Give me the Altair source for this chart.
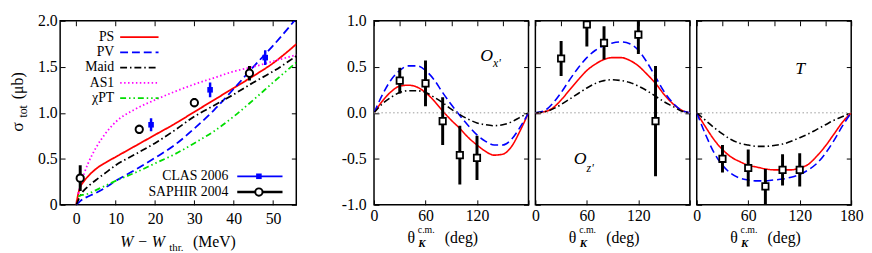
import altair as alt
import pandas as pd

FONT = "Liberation Serif, Times New Roman, Times, DejaVu Serif, serif"
TICK = 5
FS = 16
LEG = 14

# ---------------- left panel: total cross section ----------------
w_grid = [0, 0.5, 1, 2, 3, 5, 7.5, 10, 15, 20, 25, 30, 35, 40, 45, 50, 56]
sig_ps = [0, 0.12, 0.19, 0.26, 0.31, 0.39, 0.46, 0.52, 0.64, 0.76, 0.88, 1.01, 1.14, 1.27, 1.40, 1.54, 1.75]
sig_pv = [0, 0.02, 0.04, 0.07, 0.09, 0.13, 0.19, 0.26, 0.38, 0.51, 0.65, 0.83, 1.03, 1.26, 1.50, 1.73, 2.03]
sig_maid = [0, 0.05, 0.10, 0.16, 0.20, 0.27, 0.35, 0.43, 0.55, 0.67, 0.81, 0.96, 1.08, 1.20, 1.33, 1.45, 1.62]
w_low = [0.5, 1, 2, 3, 5, 7.5, 10, 15, 20, 25, 30, 35, 40, 45, 50, 56]
sig_as1 = [0.12, 0.20, 0.34, 0.45, 0.62, 0.78, 0.90, 1.04, 1.14, 1.23, 1.31, 1.38, 1.45, 1.50, 1.56, 1.63]
sig_chpt = [0.09, 0.10, 0.11, 0.12, 0.16, 0.21, 0.26, 0.35, 0.45, 0.55, 0.67, 0.80, 0.96, 1.14, 1.33, 1.55]

models_left = ["PS", "PV", "Maid", "AS1", "χPT"]
colors_left = ["#ff0000", "#0000ff", "#000000", "#ff00ff", "#00dd00"]
dashes_left = [[1, 0], [8, 4], [7, 3, 1.5, 3], [1.5, 2.5], [6, 3, 1.5, 3, 1.5, 3]]

clas_w = [19, 34, 48]
clas_sig = [0.87, 1.25, 1.60]
clas_err = [0.07, 0.08, 0.08]
saphir_w = [1, 16, 30, 44]
saphir_sig = [0.29, 0.82, 1.11, 1.43]
saphir_err = [0.14, 0.05, 0.05, 0.08]

# ---------------- right panels: polarizations ----------------
theta = list(range(0, 181, 10))
ox_ps = [0, 0.13, 0.23, 0.29, 0.30, 0.28, 0.22, 0.13, 0.02, -0.08, -0.17, -0.27, -0.35, -0.42, -0.46, -0.45, -0.37, -0.20, 0]
ox_pv = [0, 0.20, 0.36, 0.46, 0.51, 0.51, 0.46, 0.36, 0.22, 0.09, -0.03, -0.14, -0.24, -0.31, -0.35, -0.35, -0.29, -0.16, 0]
ox_maid = [0, 0.10, 0.17, 0.22, 0.24, 0.24, 0.22, 0.17, 0.11, 0.04, -0.02, -0.07, -0.11, -0.13, -0.14, -0.13, -0.10, -0.05, 0]

oz_ps = [0, 0.01, 0.05, 0.14, 0.25, 0.36, 0.46, 0.53, 0.58, 0.60, 0.60, 0.57, 0.51, 0.42, 0.32, 0.20, 0.10, 0.03, 0]
oz_pv = [0, 0.02, 0.10, 0.22, 0.36, 0.49, 0.60, 0.68, 0.73, 0.76, 0.77, 0.75, 0.68, 0.55, 0.39, 0.23, 0.11, 0.03, 0]
oz_maid = [0, 0.01, 0.04, 0.09, 0.15, 0.21, 0.27, 0.32, 0.35, 0.36, 0.35, 0.33, 0.29, 0.24, 0.18, 0.12, 0.07, 0.02, 0]

t_ps = [0, -0.15, -0.29, -0.40, -0.48, -0.53, -0.57, -0.59, -0.61, -0.62, -0.62, -0.62, -0.60, -0.56, -0.47, -0.36, -0.23, -0.10, 0]
t_pv = [0, -0.23, -0.43, -0.57, -0.66, -0.71, -0.73, -0.74, -0.74, -0.73, -0.72, -0.70, -0.67, -0.62, -0.55, -0.44, -0.30, -0.14, 0]
t_maid = [0, -0.08, -0.16, -0.23, -0.29, -0.33, -0.35, -0.365, -0.365, -0.355, -0.34, -0.31, -0.27, -0.23, -0.18, -0.13, -0.08, -0.04, 0]

models_right = ["PS", "PV", "Maid"]
colors_right = ["#ff0000", "#0000ff", "#000000"]
dashes_right = [[1, 0], [8, 4], [7, 3, 1.5, 3]]

ox_th = [30, 60, 80, 100, 120]
ox_val = [0.35, 0.32, -0.09, -0.46, -0.49]
ox_err = [0.14, 0.25, 0.26, 0.32, 0.24]
oz_th = [30, 60, 80, 120, 140]
oz_val = [0.59, 0.96, 0.76, 0.85, -0.09]
oz_err = [0.19, 0.24, 0.18, 0.21, 0.60]
t_th = [30, 60, 80, 100, 120]
t_val = [-0.50, -0.60, -0.80, -0.62, -0.62]
t_err = [0.15, 0.20, 0.19, 0.17, 0.18]

ONE = pd.DataFrame({"k": [0]})


def long_df(xs_list, ys_list, names):
    rows = []
    for xs, ys, n in zip(xs_list, ys_list, names):
        for x, y in zip(xs, ys):
            rows.append({"x": x, "y": y, "model": n})
    return pd.DataFrame(rows)


def err_df(xs, vals, errs):
    return pd.DataFrame({"x": xs, "y": vals,
                         "lo": [v - e for v, e in zip(vals, errs)],
                         "hi": [v + e for v, e in zip(vals, errs)]})


def txt(s, x, y, size=FS, align="left", baseline="alphabetic", style="normal",
        weight="normal", angle=0, color="black"):
    kw = dict(align=align, baseline=baseline, font=FONT, fontSize=size,
              fontStyle=style, fontWeight=weight, color=color)
    if angle:
        kw["angle"] = angle
    return alt.Chart(ONE).mark_text(**kw).encode(
        x=alt.value(x), y=alt.value(y), text=alt.value(s))


def axis(orient, values, labels=True, label_expr=None, pad=6):
    kw = dict(orient=orient, values=values, offset=-TICK, tickSize=TICK,
              domain=False, grid=False, title=None, labels=labels,
              tickColor="black", tickWidth=1, labelFont=FONT, labelFontSize=FS,
              labelColor="black", labelPadding=pad, labelFlush=False,
              labelOverlap=False)
    if label_expr:
        kw["labelExpr"] = label_expr
    return alt.Axis(**kw)


# ================= left panel =================
LW, LH = 240, 187
xs_l = alt.Scale(domain=[-4.1, 55.9], nice=False, zero=False)
ys_l = alt.Scale(domain=[0, 2], nice=False, zero=False)

df_left = long_df([w_grid, w_grid, w_grid, w_low, w_low],
                  [sig_ps, sig_pv, sig_maid, sig_as1, sig_chpt], models_left)

curves_left = alt.Chart(df_left).mark_line(clip=True, strokeWidth=1.8, interpolate="monotone").encode(
    x=alt.X("x:Q", scale=xs_l, axis=axis("bottom", [0, 10, 20, 30, 40, 50], pad=6)),
    y=alt.Y("y:Q", scale=ys_l, axis=axis("left", [0, 0.5, 1.0, 1.5, 2.0], pad=3,
                                         label_expr="datum.value == 0 ? '0' : format(datum.value, '.1f')")),
    color=alt.Color("model:N", scale=alt.Scale(domain=models_left, range=colors_left), legend=None),
    strokeDash=alt.StrokeDash("model:N", scale=alt.Scale(domain=models_left, range=dashes_left), legend=None),
)

clas_df = err_df(clas_w, clas_sig, clas_err)
saphir_df = err_df(saphir_w, saphir_sig, saphir_err)

clas_bars = alt.Chart(clas_df).mark_rule(color="#0000ff", strokeWidth=2.5, clip=True).encode(
    x=alt.X("x:Q", scale=xs_l, title=None), y=alt.Y("lo:Q", scale=ys_l, title=None), y2="hi:Q")
clas_pts = alt.Chart(clas_df).mark_square(color="#0000ff", size=32, opacity=1).encode(
    x=alt.X("x:Q", scale=xs_l, title=None), y=alt.Y("y:Q", scale=ys_l, title=None))
saphir_bars = alt.Chart(saphir_df).mark_rule(color="black", strokeWidth=3, clip=True).encode(
    x=alt.X("x:Q", scale=xs_l, title=None), y=alt.Y("lo:Q", scale=ys_l, title=None), y2="hi:Q")
saphir_pts = alt.Chart(saphir_df).mark_point(shape="circle", filled=True, fill="white", stroke="black",
                                              strokeWidth=2, size=55, opacity=1).encode(
    x=alt.X("x:Q", scale=xs_l, title=None), y=alt.Y("y:Q", scale=ys_l, title=None))

left_layers = [curves_left, clas_bars, saphir_bars, clas_pts, saphir_pts]

# legend (model curves)
for i, (name, col, dash) in enumerate(zip(models_left, colors_left, dashes_left)):
    yy = 16.5 + i * 15.5
    left_layers.append(txt(name, 55, yy, size=LEG, baseline="middle", align="right"))
    left_layers.append(alt.Chart(ONE).mark_rule(color=col, strokeDash=dash, strokeWidth=1.8).encode(
        x=alt.value(61), x2=alt.value(100), y=alt.value(yy)))

# legend (data)
left_layers.append(txt("CLAS 2006", 171, 158, size=LEG, baseline="middle", align="right"))
left_layers.append(alt.Chart(ONE).mark_rule(color="#0000ff", strokeWidth=1.8).encode(
    x=alt.value(180), x2=alt.value(226), y=alt.value(158)))
left_layers.append(alt.Chart(ONE).mark_square(color="#0000ff", size=32, opacity=1).encode(
    x=alt.value(202), y=alt.value(158)))
left_layers.append(txt("SAPHIR 2004", 171, 174, size=LEG, baseline="middle", align="right"))
left_layers.append(alt.Chart(ONE).mark_rule(color="black", strokeWidth=2.5).encode(
    x=alt.value(180), x2=alt.value(226), y=alt.value(174)))
left_layers.append(alt.Chart(ONE).mark_point(shape="circle", filled=True, fill="white", stroke="black",
                                             strokeWidth=2, size=55, opacity=1).encode(
    x=alt.value(202), y=alt.value(174)))

# axis titles
left_layers += [
    txt("W − W", 61, 230, style="italic"),
    txt("thr.", 111, 234, size=11),
    txt("(MeV)", 135, 230),
    txt("σ", -38, 108, size=18, angle=270, align="center"),
    txt("tot", -34, 92, size=12, angle=270, align="center"),
    txt("(μb)", -38, 66, size=FS, angle=270, align="center"),
]

left_mirror = alt.Chart(df_left).mark_line(opacity=0).encode(
    x=alt.X("x:Q", scale=xs_l, axis=axis("top", [0, 10, 20, 30, 40, 50], labels=False)),
    y=alt.Y("y:Q", scale=ys_l, axis=axis("right", [0, 0.5, 1.0, 1.5, 2.0], labels=False)),
)

left = alt.layer(alt.layer(*left_layers), left_mirror).resolve_axis(
    x="independent", y="independent").properties(width=LW, height=LH)

# ================= right panels =================
PW, PH = 157, 187
xs_r = alt.Scale(domain=[0, 180], nice=False, zero=False)
ys_r = alt.Scale(domain=[-1, 1], nice=False, zero=False)
th_ticks = [0, 30, 60, 90, 120, 150, 180]
y_ticks = [-1.0, -0.5, 0.0, 0.5, 1.0]
y_expr = "(datum.value < 0 ? '-' : '') + format(abs(datum.value), '.1f')"


def make_panel(ps, pv, maid, th, val, err, label_layers, y_labels, last):
    dfc = long_df([theta, theta, theta], [ps, pv, maid], models_right)
    x_expr = ("datum.value % 60 == 0 ? datum.label : ''" if last
              else "datum.value % 60 == 0 && datum.value < 180 ? datum.label : ''")
    curves = alt.Chart(dfc).mark_line(clip=True, strokeWidth=1.6, interpolate="monotone").encode(
        x=alt.X("x:Q", scale=xs_r, axis=axis("bottom", th_ticks, label_expr=x_expr, pad=3)),
        y=alt.Y("y:Q", scale=ys_r, axis=axis("left", y_ticks, labels=y_labels, pad=8, label_expr=y_expr)),
        color=alt.Color("model:N", scale=alt.Scale(domain=models_right, range=colors_right), legend=None),
        strokeDash=alt.StrokeDash("model:N", scale=alt.Scale(domain=models_right, range=dashes_right), legend=None),
    )
    zero = alt.Chart(ONE).mark_rule(color="#999999", strokeWidth=1, strokeDash=[1.5, 2.5]).encode(
        y=alt.datum(0))
    d = err_df(th, val, err)
    bars = alt.Chart(d).mark_rule(color="black", strokeWidth=3, clip=True).encode(
        x=alt.X("x:Q", scale=xs_r, title=None), y=alt.Y("lo:Q", scale=ys_r, title=None), y2="hi:Q")
    pts = alt.Chart(d).mark_square(fill="white", stroke="black", strokeWidth=1.8, size=42,
                                   opacity=1, clip=True).encode(
        x=alt.X("x:Q", scale=xs_r, title=None), y=alt.Y("y:Q", scale=ys_r, title=None))
    title_layers = [
        txt("θ", 34, 226),
        txt("c.m.", 44.5, 215.5, size=10),
        txt("K", 45, 230, size=11, style="italic", weight="bold"),
        txt("(deg)", 72, 226),
    ]
    main = alt.layer(curves, zero, bars, pts, *label_layers, *title_layers)
    mirror = alt.Chart(dfc).mark_line(opacity=0).encode(
        x=alt.X("x:Q", scale=xs_r, axis=axis("top", th_ticks, labels=False)),
        y=alt.Y("y:Q", scale=ys_r, axis=axis("right", y_ticks, labels=False)),
    )
    return alt.layer(main, mirror).resolve_axis(
        x="independent", y="independent").properties(width=PW, height=PH)


ox_label = [txt("O", 108, 41, size=18, style="italic"), txt("x'", 121, 47, size=12, style="italic")]
oz_label = [txt("O", 39, 146, size=18, style="italic"), txt("z'", 52, 154, size=12, style="italic")]
t_label = [txt("T", 100, 54, size=18, style="italic")]

p_ox = make_panel(ox_ps, ox_pv, ox_maid, ox_th, ox_val, ox_err, ox_label, True, False)
p_oz = make_panel(oz_ps, oz_pv, oz_maid, oz_th, oz_val, oz_err, oz_label, False, False)
p_t = make_panel(t_ps, t_pv, t_maid, t_th, t_val, t_err, t_label, False, True)

right = alt.hconcat(p_ox, p_oz, p_t, spacing=7, bounds="flush")

chart = alt.hconcat(left, right, spacing=79, bounds="flush").properties(
    padding={"left": 0, "top": 2, "right": 0, "bottom": 0}, background="white"
).configure_view(stroke="black", strokeWidth=1.5)

chart.save("out.html", embed_options={"renderer": "svg", "actions": False})
